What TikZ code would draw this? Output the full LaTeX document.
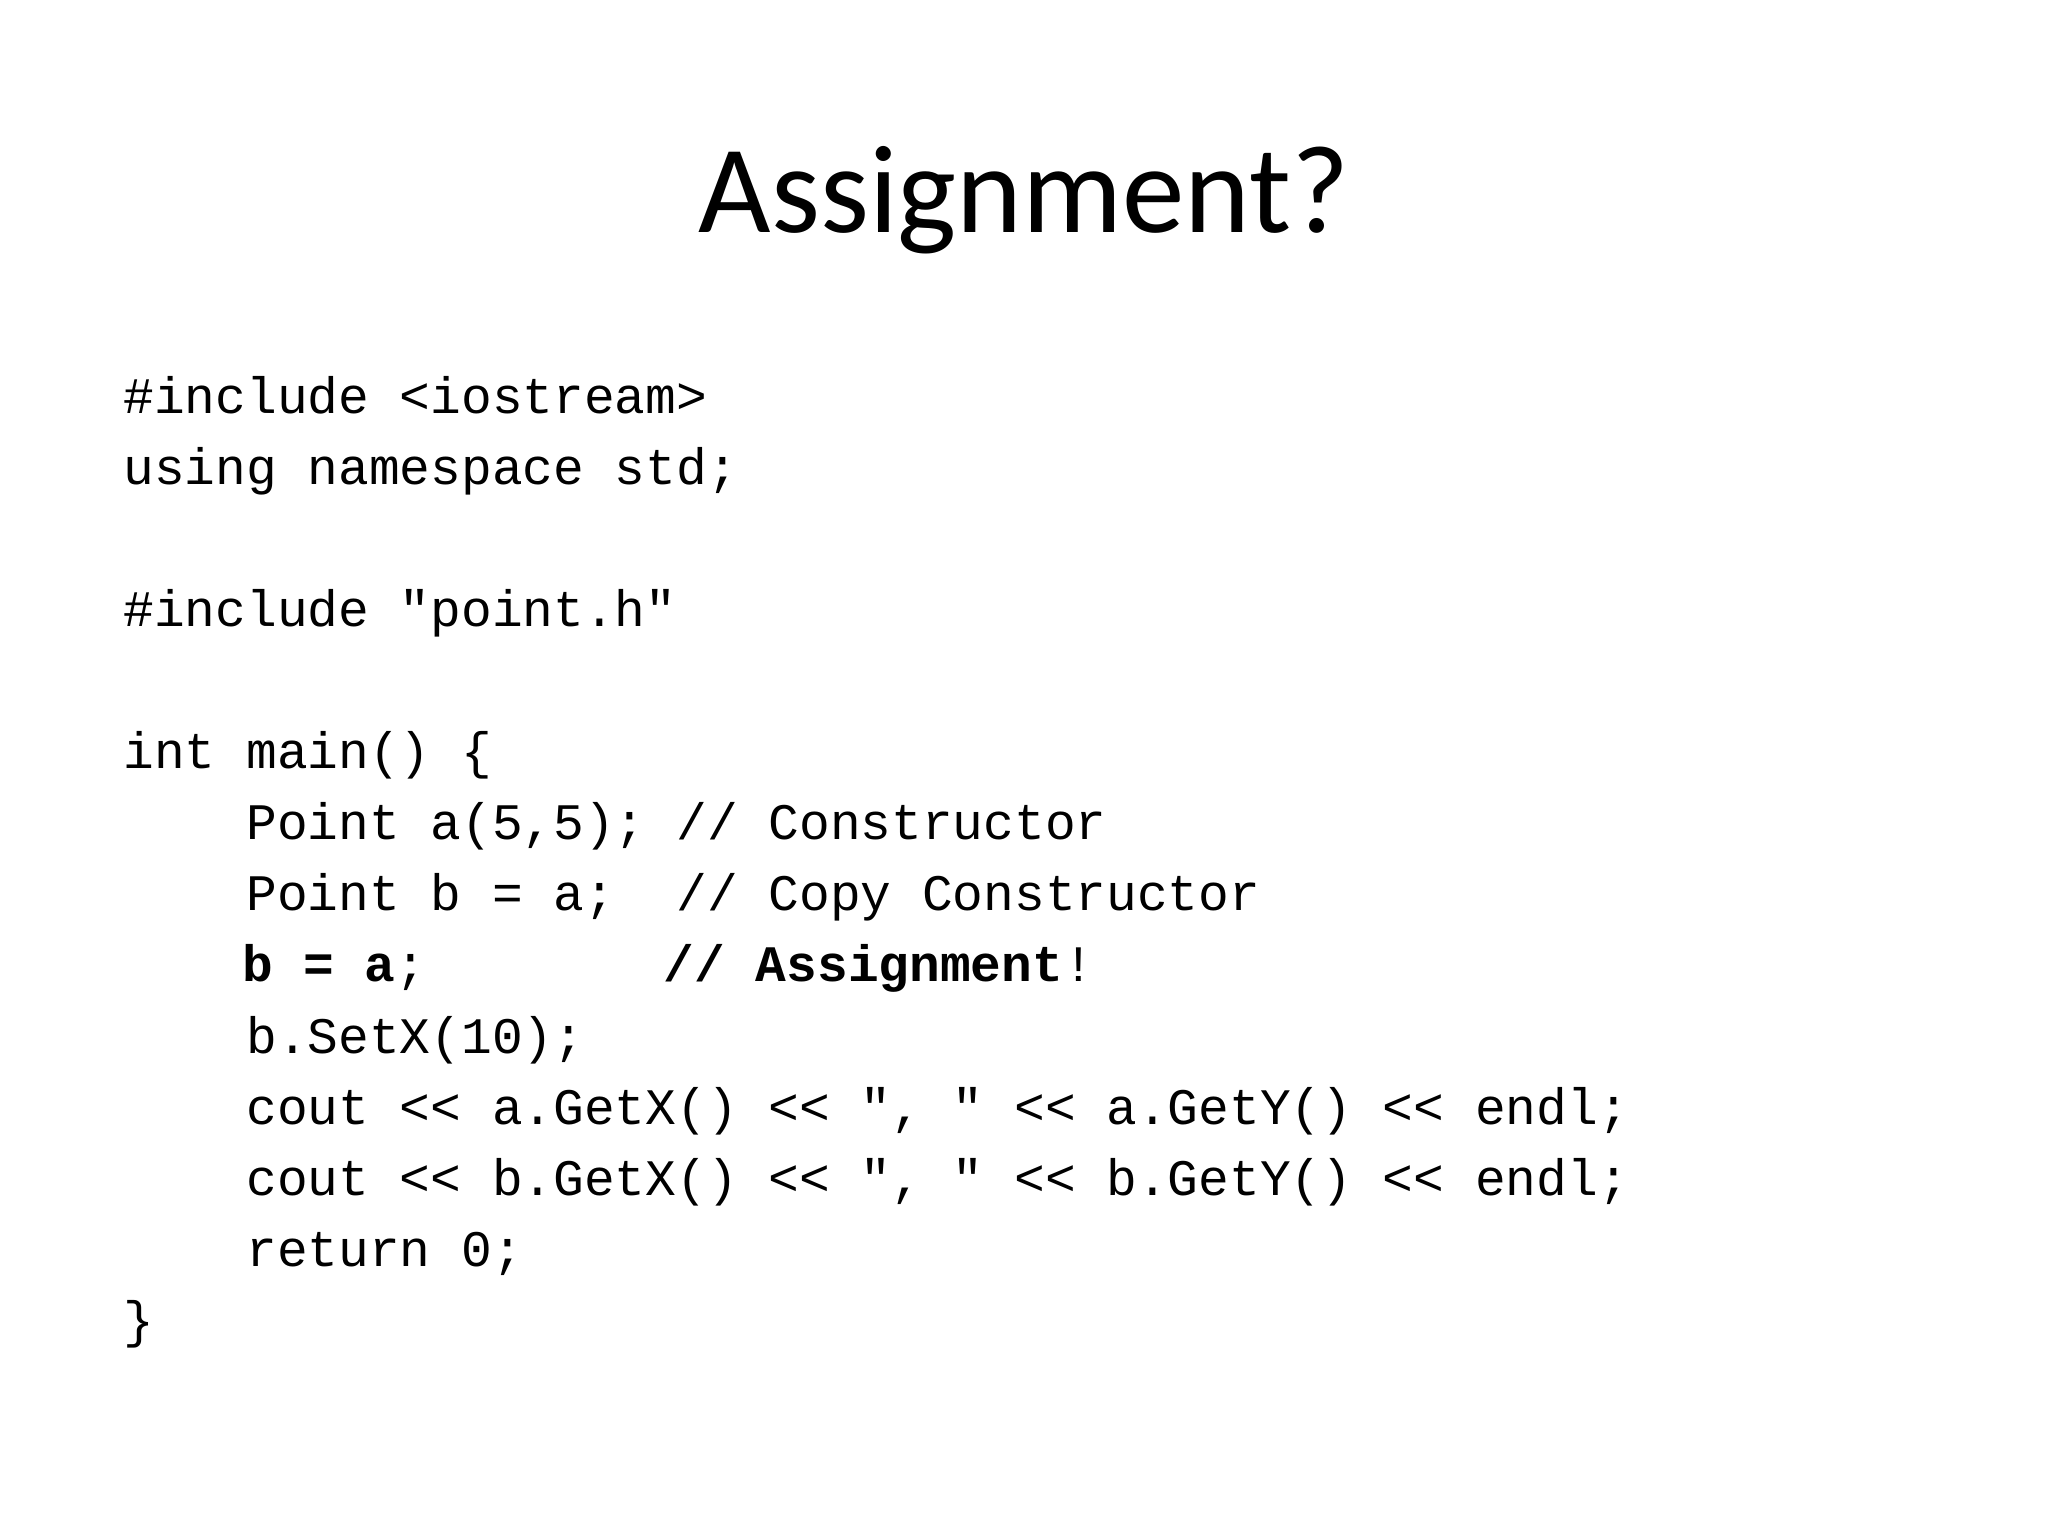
\documentclass[tikz,border=0pt]{standalone}
\usepackage{fontspec}
\newfontfamily\titlefont{Carlito}
\setmonofont{Liberation Mono}
\tikzset{
  title/.style={anchor=base, inner sep=0pt, font=\titlefont\fontsize{44pt}{52pt}\selectfont},
  codeline/.style={anchor=base west, inner sep=0pt, font=\ttfamily\fontsize{18pt}{25pt}\selectfont}
}
\begin{document}
\begin{tikzpicture}[x=1pt,y=1pt]
\useasboundingbox[fill=white] (0,0) rectangle (720,-540);
\def\lx{43.2}
\def\ix{86.4}
\node[title] (t) at (360,-81.7) {Assignment?};
\node[codeline] (l0) at (\lx,-145.2) {\frenchspacing\#include <iostream>};
\node[codeline] (l1) at (\lx,-170.2) {\frenchspacing using namespace std;};
\node[codeline] (l3) at (\lx,-220.2) {\frenchspacing\#include "point.h"};
\node[codeline] (l5) at (\lx,-270.2) {\frenchspacing int main() \{};
\node[codeline] (l6) at (\ix,-295.2) {\frenchspacing Point a(5,5); // Constructor};
\node[codeline] (l7) at (\ix,-320.2) {\frenchspacing Point b = a;~~// Copy Constructor};
\node[codeline] (l8) at (\ix-1.5,-345.2) {\frenchspacing\textbf{b = a};~~~~~~~~\hspace{-3pt}\textbf{// Assignment}!};
\node[codeline] (l9) at (\ix,-370.2) {\frenchspacing b.SetX(10);};
\node[codeline] (l10) at (\ix,-395.2) {\frenchspacing cout << a.GetX() << ", " << a.GetY() << endl;};
\node[codeline] (l11) at (\ix,-420.2) {\frenchspacing cout << b.GetX() << ", " << b.GetY() << endl;};
\node[codeline] (l12) at (\ix,-445.2) {\frenchspacing return 0;};
\node[codeline] (l13) at (\lx,-470.2) {\frenchspacing\}};
\end{tikzpicture}
\end{document}
